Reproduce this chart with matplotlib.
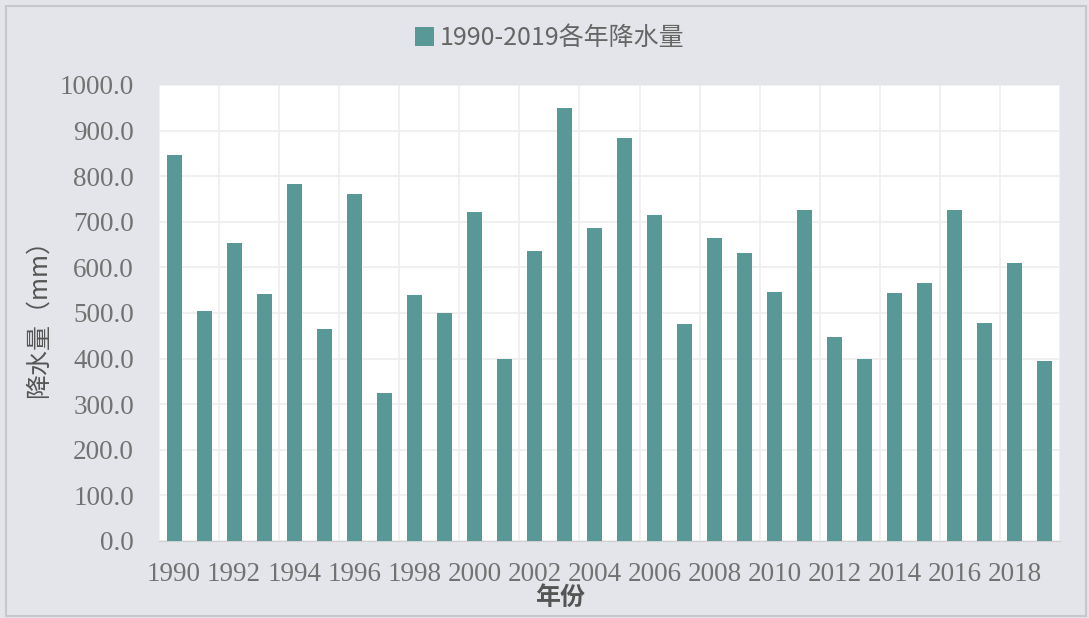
import numpy as np
import matplotlib.pyplot as plt
from matplotlib.patches import Rectangle

plt.rcParams['font.family'] = ['Noto Sans CJK SC', 'DejaVu Sans']

# yearly precipitation
years = list(range(1990, 2020))
rain = [846, 504, 653, 542, 783, 465, 760, 325, 540, 501,
        721, 400, 635, 950, 686, 884, 714, 476, 664, 631,
        546, 726, 447, 400, 544, 566, 726, 478, 609, 395]
yticks = [0, 100, 200, 300, 400, 500, 600, 700, 800, 900, 1000]

bar_color = '#589896'
bg = '#e4e5ea'
text_gray = '#727272'

fig = plt.figure(figsize=(10.89, 6.18), dpi=100, facecolor=bg)
ax = fig.add_axes([159 / 1089, 1 - 541 / 618, (1060 - 159) / 1089, (541 - 85) / 618])
ax.set_facecolor('white')

x = np.arange(len(years))
ax.bar(x, rain, width=0.5, color=bar_color, label='1990-2019各年降水量', zorder=3)

ax.set_xlim(-0.5, len(years) - 0.5)
ax.set_ylim(0, 1000)

ax.set_yticks(yticks)
ax.set_yticklabels(['%.1f' % v for v in yticks], family='Liberation Serif',
                   fontsize=19.5, color=text_gray)
ax.set_xticks(x[::2])
ax.set_xticklabels([str(y) for y in years[::2]], family='Liberation Serif',
                   fontsize=19.5, color=text_gray)
ax.set_xticks(np.arange(-0.5, len(years), 2), minor=True)
ax.tick_params(which='both', length=0)
ax.tick_params(axis='y', pad=18)
ax.tick_params(axis='x', pad=15)

ax.grid(axis='y', which='major', color='#eeeeee', linewidth=1.2, zorder=0)
ax.grid(axis='x', which='minor', color='#eeeeee', linewidth=1.2, zorder=0)

for s in ['top', 'right', 'left']:
    ax.spines[s].set_visible(False)
ax.spines['bottom'].set_color('#d0d0d0')

ax.set_ylabel('降水量（mm）', fontsize=18, color='#555555', labelpad=6)
ax.set_xlabel('年份', fontsize=18, color='#555555', fontweight='bold')
# the axis title sits a bit left of the plot centre in the original
ax.xaxis.set_label_coords((560 - 159) / 901, -0.098)

fig.legend(loc='center', bbox_to_anchor=(0.505, 1 - 38 / 618), frameon=False,
           fontsize=18, labelcolor='#666666', handlelength=0.75, handleheight=0.8,
           handletextpad=0.25)

fig.patches.append(Rectangle((6 / 1089, 0.003), 1080 / 1089, 1 - 6 / 618 - 0.003,
                             transform=fig.transFigure, fill=False,
                             edgecolor='#c8c8cc', linewidth=1.5))

fig.savefig('out.png', dpi=100, facecolor=bg)
